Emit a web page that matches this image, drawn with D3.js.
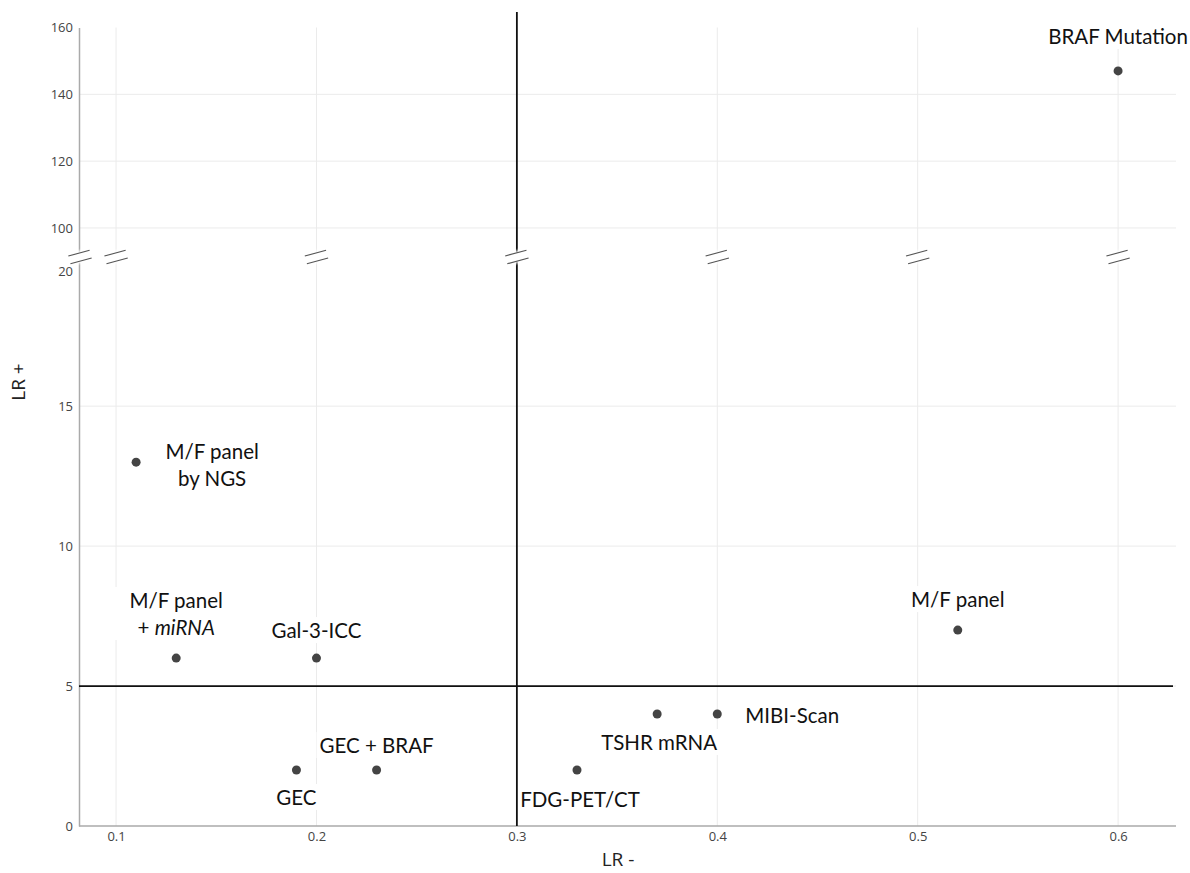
<!DOCTYPE html>
<html>
<head>
<meta charset="utf-8">
<script src="https://cdn.jsdelivr.net/npm/d3@7"></script>
<style>
  body { margin: 0; background: #fff; }
  .tick-label { font-family: "Open Sans", sans-serif; font-size: 13px; fill: #444; }
  .axis-title { font-family: "Open Sans", sans-serif; font-size: 19px; fill: #222; }
  .label { font-family: Lato, "Open Sans", sans-serif; font-size: 20.5px; fill: #111; }
  .grid { stroke: #ebebeb; stroke-width: 1; }
</style>
</head>
<body>
<script>
// data
var tests  = ["BRAF Mutation", "M/F panel by NGS", "M/F panel + miRNA", "Gal-3-ICC", "GEC + BRAF", "GEC", "FDG-PET/CT", "TSHR mRNA", "MIBI-Scan", "M/F panel"];
var lrNeg  = [0.60, 0.11, 0.13, 0.20, 0.23, 0.19, 0.33, 0.37, 0.40, 0.52];
var lrPos  = [147, 13, 6, 6, 2, 2, 2, 4, 4, 7];
var xTicks = [0.1, 0.2, 0.3, 0.4, 0.5, 0.6];
var yTicksLow  = [0, 5, 10, 15, 20];
var yTicksHigh = [100, 120, 140, 160];
var cutX = 0.3, cutY = 5;

// label text lines (second part of a line in italics)
var labelLines = [
    [["BRAF Mutation"]],
    [["M/F panel"], ["by NGS"]],
    [["M/F panel"], ["+ ", "miRNA"]],
    [["Gal-3-ICC"]],
    [["GEC + BRAF"]],
    [["GEC"]],
    [["FDG-PET/CT"]],
    [["TSHR mRNA"]],
    [["MIBI-Scan"]],
    [["M/F panel"]]
];
// label placement: dx, baseline dy relative to the point, extra box padding
var labelPos = [
    [0, -27, 0], [76, -3, 0], [0, -50, 13], [0, -20, 0], [0, -17, 0],
    [0, 35, 0], [3, 37, 0], [2, 36, 0], [75, 9, 0], [0, -23, 0]
];

var W = 1190, H = 873;
var left = 79, right = 1176, bottom = 826;

var svg = d3.select("body").append("svg")
    .attr("width", W)
    .attr("height", H);

var x = d3.scaleLinear().domain([0.0815, 0.6289]).range([left, right]);
var yLow = d3.scaleLinear().domain([0, 20.15]).range([bottom, 262]);
var yHigh = d3.scaleLinear().domain([92.8, 160]).range([252, 27.5]);

function yOf(v) { return v > 50 ? yHigh(v) : yLow(v); }

// grid
var gGrid = svg.append("g");
xTicks.forEach(function (t) {
    gGrid.append("line").attr("class", "grid")
        .attr("x1", x(t)).attr("x2", x(t))
        .attr("y1", yHigh.range()[1]).attr("y2", yHigh.range()[0]);
    gGrid.append("line").attr("class", "grid")
        .attr("x1", x(t)).attr("x2", x(t))
        .attr("y1", yLow.range()[1]).attr("y2", bottom);
});
yTicksHigh.filter(function (t) { return t < 160; }).forEach(function (t) {
    gGrid.append("line").attr("class", "grid")
        .attr("x1", left).attr("x2", right)
        .attr("y1", yHigh(t)).attr("y2", yHigh(t));
});
yTicksLow.filter(function (t) { return t > 0 && t < 20; }).forEach(function (t) {
    gGrid.append("line").attr("class", "grid")
        .attr("x1", left).attr("x2", right)
        .attr("y1", yLow(t)).attr("y2", yLow(t));
});

// axes
var axisColor = "#aaa";
var gx = svg.append("g").attr("transform", "translate(0," + bottom + ")")
    .call(d3.axisBottom(x).tickValues(xTicks).tickSize(0).tickPadding(6).tickFormat(d3.format(".1f")));
var gyl = svg.append("g").attr("transform", "translate(" + left + ",0)")
    .call(d3.axisLeft(yLow).tickValues(yTicksLow).tickSize(0).tickPadding(6));
var gyh = svg.append("g").attr("transform", "translate(" + left + ",0)")
    .call(d3.axisLeft(yHigh).tickValues(yTicksHigh).tickSize(0).tickPadding(6));
[gx, gyl, gyh].forEach(function (g) {
    g.attr("font-family", null).attr("font-size", null);
    g.select(".domain").attr("stroke", axisColor).attr("stroke-width", 1.5);
    g.selectAll("text").attr("class", "tick-label").attr("fill", null);
});
gx.select(".domain").attr("d", "M" + left + ",0H" + right);
gyl.selectAll(".tick").filter(function (d) { return d == 20; })
    .select("text").attr("dy", "0.7em");

// labels with white boxes (drawn over the grid, under the cut lines)
var gLab = svg.append("g");
tests.forEach(function (name, i) {
    var px = x(lrNeg[i]), py = yOf(lrPos[i]);
    var lines = labelLines[i];
    var dx = labelPos[i][0], dy = labelPos[i][1], pad = 3 + labelPos[i][2];
    var g = gLab.append("g");
    var box = g.append("rect").attr("fill", "#fff");
    var t = g.append("text").attr("class", "label").attr("text-anchor", "middle");
    lines.forEach(function (parts, li) {
        var tsp = t.append("tspan").attr("x", px + dx).attr("y", py + dy + li * 27);
        parts.forEach(function (p, pi) {
            var s = tsp.append("tspan").text(p);
            if (parts.length > 1 && pi == 1) s.attr("font-style", "italic");
        });
    });
    var bb = t.node().getBBox();
    box.attr("x", bb.x - pad).attr("y", bb.y - 1).attr("width", bb.width + 2 * pad).attr("height", bb.height + 2);
});

// cut lines
svg.append("line")
    .attr("x1", x(cutX)).attr("x2", x(cutX))
    .attr("y1", 12).attr("y2", bottom)
    .attr("stroke", "#111").attr("stroke-width", 1.8);
svg.append("line")
    .attr("x1", left).attr("x2", right - 3)
    .attr("y1", yLow(cutY)).attr("y2", yLow(cutY))
    .attr("stroke", "#111").attr("stroke-width", 1.8);

// axis break marks
var breakY = 257;
var breaks = [left + 1].concat(xTicks.map(function (t) { return x(t); }));
var defs = svg.append("defs");
defs.append("filter").attr("id", "soft")
    .append("feGaussianBlur").attr("stdDeviation", 1.5);
breaks.forEach(function (bx) {
    var g = svg.append("g").attr("transform", "translate(" + bx + "," + breakY + ") rotate(-15)");
    g.append("rect").attr("x", -13).attr("y", -6).attr("width", 26).attr("height", 12)
        .attr("fill", "#fff").attr("filter", "url(#soft)");
    g.append("rect").attr("x", -11).attr("y", -4).attr("width", 22).attr("height", 8)
        .attr("fill", "#fff");
    [-4, 4].forEach(function (o) {
        g.append("line").attr("x1", -11).attr("x2", 11).attr("y1", o).attr("y2", o)
            .attr("stroke", "#555").attr("stroke-width", 1.2);
    });
});

// points
svg.append("g").selectAll("circle")
    .data(tests)
    .enter().append("circle")
    .attr("cx", function (d, i) { return x(lrNeg[i]); })
    .attr("cy", function (d, i) { return yOf(lrPos[i]); })
    .attr("r", 4.5)
    .attr("fill", "#444");

// axis titles
svg.append("text").attr("class", "axis-title")
    .attr("text-anchor", "middle")
    .attr("x", 618).attr("y", 866)
    .text("LR -");
svg.append("text").attr("class", "axis-title")
    .attr("text-anchor", "middle")
    .attr("transform", "translate(25,382) rotate(-90)")
    .text("LR +");
</script>
</body>
</html>
